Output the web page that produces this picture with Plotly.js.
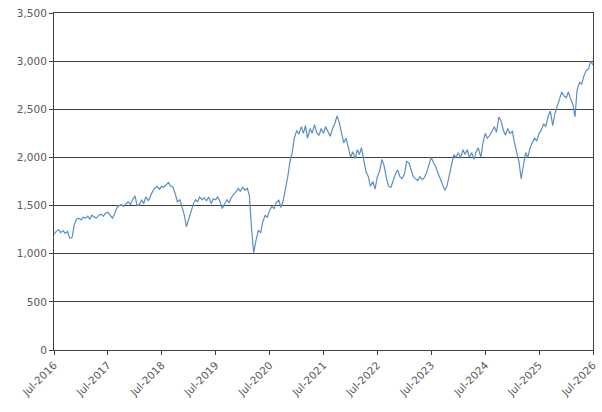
<!DOCTYPE html>
<html>
<head>
<meta charset="utf-8">
<script src="https://cdn.plot.ly/plotly-3.0.1.min.js"></script>
<style>html,body{margin:0;padding:0;background:#fff;}#chart{width:602px;height:412px;}</style>
</head>
<body>
<div id="chart"></div>
<script>
// Month starts (1st and 15th of each month) from Jul-2016 to Jul-2026
var startYear = 2016, startMonth = 7;
var values = [
// 2016 Jul-Dec
1200,1230, 1250,1220, 1240,1210, 1230,1160, 1170,1300, 1360,1370,
// 2017
1350,1380, 1370,1390, 1360,1400, 1380,1370, 1400,1410, 1390,1420,
1430,1400, 1370,1410, 1480,1500, 1510,1490, 1520,1540, 1510,1560,
// 2018
1600,1500, 1510,1560, 1520,1590, 1550,1600, 1650,1680, 1700,1670,
1700,1690, 1720,1740, 1700,1690, 1620,1540, 1560,1480, 1400,1280,
// 2019
1370,1450, 1520,1560, 1540,1590, 1560,1580, 1550,1590, 1520,1570,
1560,1590, 1540,1470, 1520,1560, 1530,1580, 1620,1640, 1680,1650,
// 2020
1690,1660, 1680,1600, 1250,1010, 1150,1240, 1220,1330, 1400,1380,
1450,1490, 1470,1530, 1560,1480, 1550,1650, 1800,1950, 2050,2200,
// 2021
2280,2240, 2320,2250, 2330,2200, 2300,2250, 2340,2260, 2230,2300,
2250,2320, 2270,2220, 2300,2350, 2430,2370, 2250,2150, 2200,2100,
// 2022
2000,2060, 1990,2080, 2030,2100, 1950,1850, 1800,1700, 1750,1670,
1800,1850, 1980,1920, 1780,1700, 1690,1760, 1830,1870, 1800,1780,
// 2023
1830,1960, 1940,1870, 1800,1780, 1760,1800, 1770,1790, 1850,1920,
2000,1950, 1900,1840, 1780,1720, 1660,1700, 1820,1950, 2030,2000,
// 2024
2050,1990, 2080,2030, 2080,2000, 2050,1980, 2060,2100, 2000,2150,
2250,2200, 2230,2270, 2320,2260, 2420,2380, 2280,2230, 2300,2250,
// 2025
2270,2150, 2050,1950, 1780,1900, 2050,2000, 2100,2150, 2200,2170,
2250,2280, 2350,2320, 2430,2480, 2330,2450, 2520,2600, 2680,2640,
// 2026 Jan-Jul 1
2620,2680, 2600,2550, 2420,2700, 2780,2760, 2850,2900, 2920,3000,
2960
];
var tickYears = [2016,2017,2018,2019,2020,2021,2022,2023,2024,2025,2026];
var tickLabels = ["Jul-2016","Jul-2017","Jul-2018","Jul-2019","Jul-2020","Jul-2021","Jul-2022","Jul-2023","Jul-2024","Jul-2025","Jul-2026"];

function pad(n){return (n<10?"0":"")+n;}
var dates = [];
for (var i=0;i<values.length;i++){
  var m = Math.floor(i/2);
  var y = startYear + Math.floor((startMonth-1+m)/12);
  var mo = ((startMonth-1+m)%12)+1;
  var d = (i%2===0)?"01":"15";
  dates.push(y+"-"+pad(mo)+"-"+d);
}
var tickVals = tickYears.map(function(y){return y+"-07-01";});

var trace = {
  x: dates, y: values, type: "scatter", mode: "lines",
  line: {color: "#5b8fc2", width: 1.2}, hoverinfo: "x+y"
};
var font = {family: "DejaVu Sans, Verdana, sans-serif", size: 10.5, color: "#595959"};
var layout = {
  width: 602, height: 412,
  margin: {l: 54, r: 9, t: 13, b: 62},
  paper_bgcolor: "#ffffff", plot_bgcolor: "#ffffff",
  showlegend: false,
  font: font,
  xaxis: {
    type: "date", range: ["2016-07-01","2026-07-01"],
    tickmode: "array", tickvals: tickVals, ticktext: tickLabels,
    tickangle: -45, ticks: "outside", ticklen: 4, tickcolor: "#404040",
    showgrid: false, showline: true, linecolor: "#404040", linewidth: 1, mirror: true,
    zeroline: false, tickfont: font
  },
  yaxis: {
    range: [0,3500], dtick: 500, tickformat: ",",
    ticks: "outside", ticklen: 4, tickcolor: "#404040",
    showgrid: true, gridcolor: "#404040", gridwidth: 1,
    showline: true, linecolor: "#404040", linewidth: 1, mirror: true,
    zeroline: false, tickfont: font
  }
};
Plotly.newPlot("chart", [trace], layout, {staticPlot: true, displayModeBar: false});
</script>
</body>
</html>
